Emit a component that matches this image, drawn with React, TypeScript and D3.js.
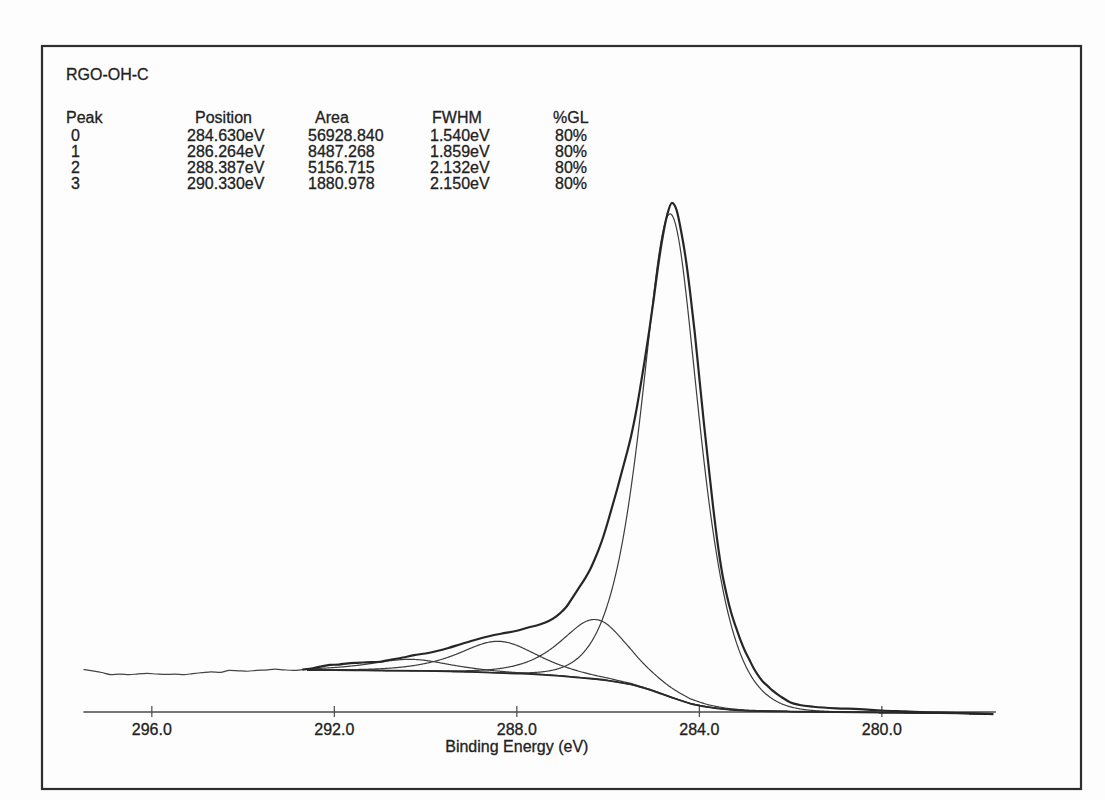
import React from 'react';
import * as d3 from 'd3';

// ---------- data ----------
const sampleName = 'RGO-OH-C';
const tableHeaders = ['Peak', 'Position', 'Area', 'FWHM', '%GL'];
const peakIds = [0, 1, 2, 3];
const peakPositions = [284.63, 286.264, 288.387, 290.33];
const peakAreas = [56928.84, 8487.268, 5156.715, 1880.978];
const peakFWHM = [1.54, 1.859, 2.132, 2.15];
const peakGL = [80, 80, 80, 80];

const xTicks = [296, 292, 288, 284, 280];
const xLabel = 'Binding Energy (eV)';
const xDomain = [297.5, 277.5];
const fitRange = [292.6, 277.56];

// raw spectrum (binding energy, counts)
const rawEnergy = [
  297.5, 297.3, 297.1, 296.9, 296.7, 296.5, 296.3, 296.1, 295.9, 295.7, 295.5, 295.3, 295.1,
  294.9, 294.7, 294.5, 294.3, 294.1, 293.9, 293.7, 293.5, 293.3, 293.1, 292.9, 292.7,
  292.5, 292.3, 292.1, 291.9, 291.7, 291.5, 291.3, 291.0, 290.8, 290.5, 290.25, 290.0,
  289.75, 289.5, 289.25, 289.0, 288.75, 288.5, 288.25, 288.0, 287.75, 287.5, 287.3, 287.15,
  287.0, 286.9, 286.8, 286.7, 286.6, 286.5, 286.4, 286.3, 286.2, 286.1, 286.0, 285.9, 285.8,
  285.7, 285.6, 285.5, 285.4, 285.3, 285.2, 285.1, 285.0, 284.9, 284.8, 284.7, 284.6, 284.5,
  284.4, 284.3, 284.2, 284.1, 284.0, 283.9, 283.8, 283.7, 283.6, 283.5, 283.4, 283.3, 283.2,
  283.1, 283.0, 282.9, 282.8, 282.7, 282.6, 282.5, 282.4, 282.2, 282.0, 281.8, 281.5, 281.0,
  280.5, 280.0, 279.5, 279.0, 278.5, 278.0, 277.56,
];
const rawCounts = [
  2990, 2890, 2780, 2640, 2670, 2630, 2690, 2720, 2680, 2650, 2670, 2640, 2710,
  2770, 2830, 2790, 2930, 2900, 2870, 2930, 2950, 3010, 2960, 2930, 2980,
  3060, 3190, 3300, 3330, 3410, 3450, 3480, 3520, 3640, 3810, 3980, 4090,
  4260, 4470, 4710, 4950, 5170, 5360, 5500, 5650, 5870, 6080, 6320, 6600,
  7010, 7350, 7830, 8310, 8790, 9270, 9820, 10510, 11270, 12160, 13190, 14290, 15390,
  16560, 17720, 18960, 20470, 22260, 24180, 26240, 28440, 30780, 32770, 34280, 35040, 34560,
  33110, 31260, 28850, 26110, 23010, 19920, 17040, 14220, 11680, 9620, 8110, 6870, 5910,
  5020, 4260, 3640, 3020, 2540, 2130, 1850, 1550, 1100, 720, 550, 430, 320,
  270, 170, 110, 50, 10, -30, -80,
];

// Shirley background (binding energy, counts)
const bgEnergy = [
  292.6, 292.0, 291.0, 290.0, 289.0, 288.0, 287.5, 287.0, 286.5, 286.0, 285.5, 285.0,
  284.6, 284.2, 283.8, 283.4, 283.0, 282.0, 281.0, 280.0, 279.0, 278.0, 277.56,
];
const bgCounts = [
  2950, 2950, 2920, 2890, 2820, 2710, 2640, 2540, 2400, 2230, 1960, 1510,
  1060, 650, 400, 250, 170, 100, 70, 30, 0, -40, -80,
];

// line-shape mixing read from the drawn component widths
const LORENTZ_MIX = 0.7;

function glShape(d: number, fwhm: number) {
  const u = (4 * d * d) / (fwhm * fwhm);
  return Math.exp(-Math.LN2 * (1 - LORENTZ_MIX) * u) / (1 + LORENTZ_MIX * u);
}

// area factor of the unit-width shape
function shapeAreaFactor() {
  let s = 0;
  const step = 0.001;
  for (let t = -12; t <= 12; t += step) s += glShape(t, 1) * step;
  return s;
}

export default function App() {
  const W = 1105;
  const H = 800;
  const font = "'Liberation Sans', Arial, Helvetica, sans-serif";
  const ink = '#222';

  const x = d3.scaleLinear().domain(xDomain).range([83.4, 995.9]);
  const y = d3.scaleLinear().domain([0, 36000]).range([713, 189]);
  const bgAt = d3.scaleLinear().domain(bgEnergy).range(bgCounts);

  const line = d3
    .line<[number, number]>()
    .x((d) => x(d[0]))
    .y((d) => y(d[1]))
    .curve(d3.curveMonotoneX);

  const raw: [number, number][] = rawEnergy.map((e, i) => [e, rawCounts[i]]);
  const rawTail = raw.filter((d) => d[0] >= fitRange[0] - 0.15);
  const rawFit = raw.filter((d) => d[0] <= fitRange[0] + 0.15);

  const bg: [number, number][] = bgEnergy.map((e, i) => [e, bgCounts[i]]);

  const c = shapeAreaFactor();
  const grid: number[] = [];
  const step = 0.02;
  const n = Math.round((fitRange[0] - fitRange[1]) / step);
  for (let k = 0; k <= n; k++) grid.push(fitRange[0] - k * step);

  const components = peakIds.map((id, i) => {
    const h = peakAreas[i] / (peakFWHM[i] * c);
    const pts: [number, number][] = grid.map((e) => [
      e,
      bgAt(e) + h * glShape(e - peakPositions[i], peakFWHM[i]),
    ]);
    return { id, path: line(pts) || '' };
  });

  const axisY = 712;
  const fs = 16;
  const textStroke = { stroke: ink, strokeWidth: 0.3 };
  const headerX = [66, 195, 315, 432, 553];
  const valueX = [71, 187, 308, 430, 555];
  const headerY = 123;
  const rowY0 = 141;
  const rowDY = 16;

  const rows = peakIds.map((id, i) => [
    String(id),
    `${peakPositions[i].toFixed(3)}eV`,
    peakAreas[i].toFixed(3),
    `${peakFWHM[i].toFixed(3)}eV`,
    `${peakGL[i]}%`,
  ]);

  return (
    <svg
      width={W}
      height={H}
      viewBox={`0 0 ${W} ${H}`}
      style={{ position: 'absolute', left: 0, top: 0, background: '#fdfdfd' }}
      fontFamily={font}
    >
      <rect x={0} y={0} width={W} height={H} fill="#fdfdfd" />
      <rect x={42} y={46} width={1039} height={743} fill="none" stroke="#2e2e2e" strokeWidth={2.2} />

      {/* title and peak table */}
      <text x={66} y={80} fontSize={fs} fill={ink} {...textStroke}>
        {sampleName}
      </text>
      {tableHeaders.map((t, j) => (
        <text key={t} x={headerX[j]} y={headerY} fontSize={fs} fill={ink} {...textStroke}>
          {t}
        </text>
      ))}
      {rows.map((r, i) =>
        r.map((v, j) => (
          <text key={`${i}-${j}`} x={valueX[j]} y={rowY0 + i * rowDY} fontSize={fs} fill={ink} {...textStroke}>
            {v}
          </text>
        ))
      )}

      {/* x axis */}
      <line x1={x(xDomain[0])} x2={x(xDomain[1])} y1={axisY} y2={axisY} stroke="#4a4a4a" strokeWidth={1.4} />
      {xTicks.map((t) => (
        <g key={t}>
          <line x1={x(t)} x2={x(t)} y1={axisY - 6} y2={axisY + 5} stroke="#4a4a4a" strokeWidth={1.2} />
          <text x={x(t)} y={735} fontSize={fs} textAnchor="middle" fill={ink} {...textStroke}>
            {d3.format('.1f')(t)}
          </text>
        </g>
      ))}
      <text x={x(288)} y={752} fontSize={fs} textAnchor="middle" fill={ink} {...textStroke}>
        {xLabel}
      </text>

      {/* fitted components on the background */}
      {components.map((cmp) => (
        <path key={cmp.id} d={cmp.path} fill="none" stroke="#3c3c3c" strokeWidth={1.2} />
      ))}
      <path d={line(bg) || ''} fill="none" stroke="#2a2a2a" strokeWidth={1.8} />

      {/* raw data */}
      <path d={line(rawTail) || ''} fill="none" stroke="#444" strokeWidth={1.2} />
      <path d={line(rawFit) || ''} fill="none" stroke="#262626" strokeWidth={2.2} />
    </svg>
  );
}
